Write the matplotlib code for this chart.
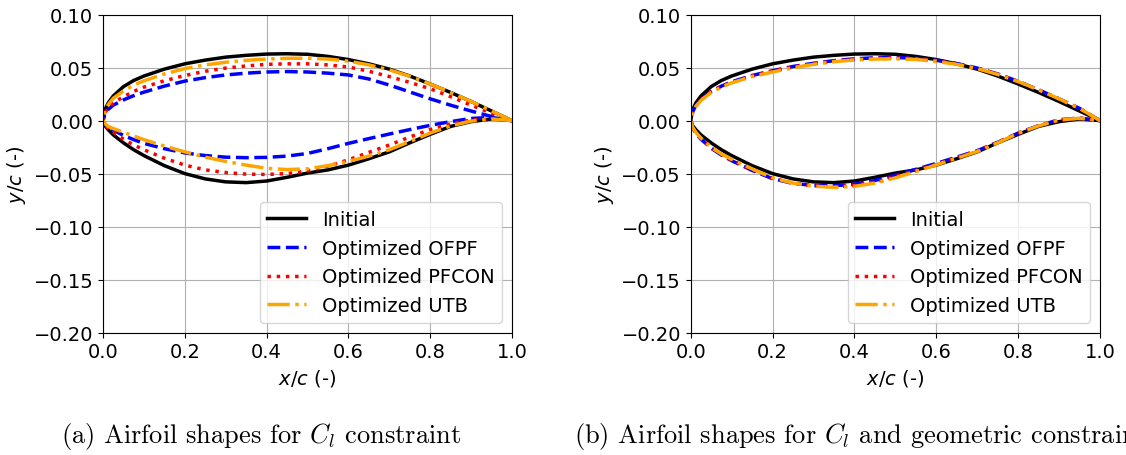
import numpy as np
import matplotlib
matplotlib.use("Agg")
import matplotlib.pyplot as plt

plt.rcParams["mathtext.fontset"] = "dejavusans"
plt.rcParams["font.size"] = 14

# Chordwise stations shared by every surface
x_c = [0.0, 0.005, 0.0125, 0.025, 0.05, 0.075, 0.1, 0.15, 0.2, 0.25, 0.3, 0.35,
       0.4, 0.45, 0.5, 0.55, 0.6, 0.65, 0.7, 0.75, 0.8, 0.85, 0.9, 0.95, 1.0]

# Baseline airfoil
initial_upper = [0.0, 0.0105, 0.0165, 0.0232, 0.0320, 0.0378, 0.0420, 0.0485, 0.0535,
                 0.0570, 0.0598, 0.0615, 0.0627, 0.0630, 0.0625, 0.0605, 0.0575, 0.0535,
                 0.0485, 0.0420, 0.0345, 0.0265, 0.0180, 0.0090, 0.0]
initial_lower = [0.0, -0.0050, -0.0085, -0.0135, -0.0210, -0.0275, -0.0330, -0.0425,
                 -0.0500, -0.0550, -0.0578, -0.0585, -0.0570, -0.0535, -0.0495, -0.0465,
                 -0.0420, -0.0360, -0.0295, -0.0210, -0.0130, -0.0055, -0.0010, 0.0015, 0.0]

# (a) Cl constraint only
a_ofpf_upper = [0.0, 0.0065, 0.0105, 0.0145, 0.0195, 0.0235, 0.0268, 0.0325, 0.0372,
                0.0405, 0.0430, 0.0447, 0.0458, 0.0462, 0.0458, 0.0447, 0.0430, 0.0392,
                0.0335, 0.0270, 0.0205, 0.0145, 0.0090, 0.0038, 0.0]
a_ofpf_lower = [0.0, -0.0040, -0.0065, -0.0090, -0.0140, -0.0180, -0.0215, -0.0265,
                -0.0305, -0.0330, -0.0345, -0.0350, -0.0347, -0.0335, -0.0310, -0.0265,
                -0.0215, -0.0170, -0.0127, -0.0085, -0.0045, -0.0010, 0.0020, 0.0030, 0.0]
a_pfcon_upper = [0.0, 0.0075, 0.0120, 0.0165, 0.0225, 0.0275, 0.0315, 0.0375, 0.0425,
                 0.0465, 0.0495, 0.0515, 0.0530, 0.0535, 0.0535, 0.0525, 0.0505, 0.0465,
                 0.0415, 0.0360, 0.0300, 0.0225, 0.0145, 0.0070, 0.0]
a_pfcon_lower = [0.0, -0.0045, -0.0075, -0.0110, -0.0175, -0.0230, -0.0275, -0.0355,
                 -0.0420, -0.0465, -0.0490, -0.0505, -0.0508, -0.0500, -0.0475, -0.0430,
                 -0.0370, -0.0300, -0.0230, -0.0155, -0.0085, -0.0030, 0.0005, 0.0015, 0.0]
a_utb_upper = [0.0, 0.0095, 0.0150, 0.0210, 0.0280, 0.0335, 0.0375, 0.0440, 0.0490,
               0.0525, 0.0550, 0.0568, 0.0580, 0.0587, 0.0588, 0.0580, 0.0560, 0.0525,
               0.0478, 0.0418, 0.0345, 0.0265, 0.0180, 0.0090, 0.0]
a_utb_lower = [0.0, -0.0030, -0.0055, -0.0075, -0.0110, -0.0145, -0.0180, -0.0240,
               -0.0295, -0.0345, -0.0385, -0.0420, -0.0450, -0.0462, -0.0455, -0.0425,
               -0.0385, -0.0335, -0.0275, -0.0198, -0.0118, -0.0050, -0.0005, 0.0015, 0.0]

# (b) Cl and geometric constraints
b_ofpf_upper = [0.0, 0.0085, 0.0140, 0.0200, 0.0275, 0.0325, 0.0365, 0.0425, 0.0470,
                0.0510, 0.0540, 0.0565, 0.0582, 0.0592, 0.0595, 0.0588, 0.0568, 0.0538,
                0.0495, 0.0440, 0.0370, 0.0290, 0.0205, 0.0115, 0.0]
b_ofpf_lower = [0.0, -0.0070, -0.0118, -0.0175, -0.0260, -0.0325, -0.0378, -0.0470,
                -0.0548, -0.0592, -0.0612, -0.0615, -0.0600, -0.0565, -0.0515, -0.0460,
                -0.0404, -0.0345, -0.0284, -0.0205, -0.0118, -0.0048, 0.0007, 0.0024, 0.0]
b_pfcon_upper = [0.0, 0.0082, 0.0135, 0.0195, 0.0270, 0.0320, 0.0360, 0.0420, 0.0465,
                 0.0505, 0.0535, 0.0560, 0.0577, 0.0587, 0.0590, 0.0584, 0.0565, 0.0535,
                 0.0492, 0.0437, 0.0368, 0.0288, 0.0204, 0.0114, 0.0]
b_pfcon_lower = [0.0, -0.0067, -0.0114, -0.0170, -0.0255, -0.0320, -0.0372, -0.0462,
                 -0.0544, -0.0591, -0.0616, -0.0624, -0.0612, -0.0580, -0.0530, -0.0472,
                 -0.0412, -0.0350, -0.0288, -0.0207, -0.0119, -0.0049, 0.0006, 0.0023, 0.0]
b_utb_upper = [0.0, 0.0080, 0.0132, 0.0190, 0.0265, 0.0315, 0.0355, 0.0415, 0.0458,
               0.0498, 0.0530, 0.0555, 0.0572, 0.0580, 0.0582, 0.0576, 0.0558, 0.0530,
               0.0490, 0.0435, 0.0368, 0.0290, 0.0205, 0.0115, 0.0]
b_utb_lower = [0.0, -0.0065, -0.0110, -0.0165, -0.0250, -0.0315, -0.0365, -0.0455,
               -0.0540, -0.0590, -0.0618, -0.0630, -0.0620, -0.0590, -0.0540, -0.0480,
               -0.0418, -0.0355, -0.0292, -0.0210, -0.0120, -0.0050, 0.0005, 0.0022, 0.0]

labels = ["Initial", "Optimized OFPF", "Optimized PFCON", "Optimized UTB"]
colors = ["black", "blue", "red", "orange"]
styles = ["-", "--", ":", "-."]

panel_a = [(initial_upper, initial_lower), (a_ofpf_upper, a_ofpf_lower),
           (a_pfcon_upper, a_pfcon_lower), (a_utb_upper, a_utb_lower)]
panel_b = [(initial_upper, initial_lower), (b_ofpf_upper, b_ofpf_lower),
           (b_pfcon_upper, b_pfcon_lower), (b_utb_upper, b_utb_lower)]


def closed_contour(upper, lower):
    """Trailing edge -> leading edge along the upper side, then back along the lower side."""
    xs = np.asarray(x_c)
    x = np.concatenate([xs[::-1], xs[1:]])
    y = np.concatenate([np.asarray(upper)[::-1], np.asarray(lower)[1:]])
    return x, y


fig = plt.figure(figsize=(11.26, 4.56), dpi=100)
ax_a = fig.add_axes([0.0915, 0.2682, 0.3632, 0.6978])
ax_b = fig.add_axes([0.6134, 0.2682, 0.3635, 0.6978])

for ax, shapes in ((ax_a, panel_a), (ax_b, panel_b)):
    for (up, lo), lab, col, ls in zip(shapes, labels, colors, styles):
        x, y = closed_contour(up, lo)
        ax.plot(x, y, color=col, linestyle=ls, linewidth=2.5, label=lab)
    ax.set_xlim(0.0, 1.0)
    ax.set_ylim(-0.20, 0.10)
    ax.set_xticks([0.0, 0.2, 0.4, 0.6, 0.8, 1.0])
    ax.set_yticks([-0.20, -0.15, -0.10, -0.05, 0.0, 0.05, 0.10])
    ax.set_xticklabels(["0.0", "0.2", "0.4", "0.6", "0.8", "1.0"])
    ax.set_yticklabels(["\u22120.20", "\u22120.15", "\u22120.10", "\u22120.05",
                        "0.00", "0.05", "0.10"])
    ax.grid(True)
    ax.set_xlabel(r"$x/c$ (-)", fontsize=14)
    ax.set_ylabel(r"$y/c$ (-)", fontsize=14)
    ax.legend(loc="lower right", fontsize=14)

cap_kw = dict(fontsize=19.0, family="cmr10", math_fontfamily="cm",
              va="baseline", ha="left")
fig.text(61 / 1126, 1 - 443 / 456, r"(a) Airfoil shapes for $C_l$ constraint", **cap_kw)
fig.text(574 / 1126, 1 - 443 / 456,
         r"(b) Airfoil shapes for $C_l$ and geometric constraints", **cap_kw)

fig.savefig("out.png", dpi=100)
